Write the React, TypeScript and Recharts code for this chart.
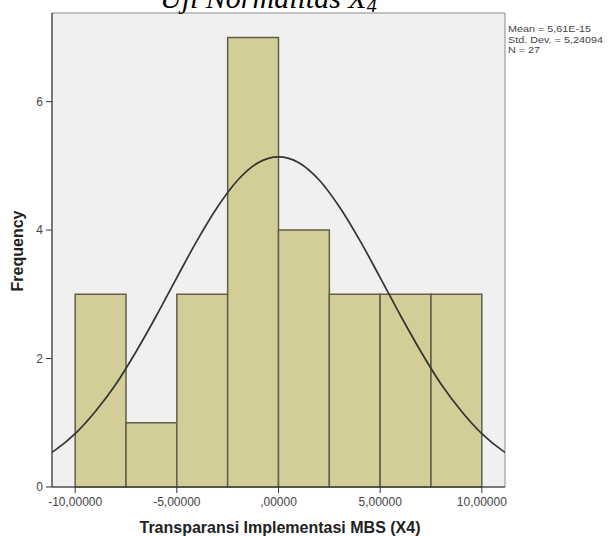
import React from 'react';
import { ComposedChart, Line, XAxis, YAxis, ReferenceArea } from 'recharts';

// histogram bins (residual X4) and their counts
const binStarts = [-10, -7.5, -5, -2.5, 0, 2.5, 5, 7.5];
const binEnds = [-7.5, -5, -2.5, 0, 2.5, 5, 7.5, 10];
const frequencies = [3, 1, 3, 7, 4, 3, 3, 3];

// normal curve
const curveX = [-11.14, -11, -10, -9, -8, -7, -6, -5, -4, -3, -2, -1, 0, 1, 2, 3, 4, 5, 6, 7, 8, 9, 10, 11, 11.14];
const curveY = [0.54, 0.57, 0.83, 1.18, 1.6, 2.11, 2.67, 3.26, 3.84, 4.36, 4.78, 5.05, 5.14, 5.05, 4.78, 4.36, 3.84, 3.26, 2.67, 2.11, 1.6, 1.18, 0.83, 0.57, 0.54];

const xTicks = [-10, -5, 0, 5, 10];
const xTickLabels = ['-10,00000', '-5,00000', ',00000', '5,00000', '10,00000'];
const yTicks = [0, 2, 4, 6];

const statsLines = ['Mean = 5,61E-15', 'Std. Dev. = 5,24094', 'N = 27'];

const curveData = curveX.map((x, i) => ({ x, y: curveY[i] }));

const font = '"Liberation Sans", Arial, sans-serif';

export default function App() {
  return (
    <div style={{ position: 'absolute', left: 0, top: 0, width: 616, height: 536, overflow: 'hidden', background: '#fff' }}>
      <ComposedChart
        width={616}
        height={536}
        data={curveData}
        margin={{ top: 13, right: 111, bottom: 19, left: 12 }}
      >
        <XAxis
          type="number"
          dataKey="x"
          domain={[-11.14, 11.14]}
          ticks={xTicks}
          allowDataOverflow
          height={30}
          tickSize={6}
          tickMargin={4}
          stroke="#333"
          tick={{ fill: '#444', fontSize: 12, fontFamily: font }}
          tickFormatter={(v: number) => xTickLabels[xTicks.indexOf(v)] ?? String(v)}
        />
        <YAxis
          type="number"
          domain={[0, 7.38]}
          ticks={yTicks}
          allowDataOverflow
          width={40}
          tickSize={6}
          tickMargin={3}
          stroke="#333"
          tick={{ fill: '#444', fontSize: 12, fontFamily: font }}
        />
        <ReferenceArea y1={0} y2={7.38} fill="#f0f0f0" fillOpacity={1} stroke="#8a8a8a" strokeWidth={1} />
        {binStarts.map((b, i) => (
          <ReferenceArea
            key={b}
            x1={b}
            x2={binEnds[i]}
            y1={0}
            y2={frequencies[i]}
            fill="#d3ce97"
            fillOpacity={1}
            stroke="#5f5f48"
            strokeWidth={1.5}
          />
        ))}
        <Line
          type="monotone"
          dataKey="y"
          stroke="#333"
          strokeWidth={1.7}
          dot={false}
          isAnimationActive={false}
        />
      </ComposedChart>
      <svg width={616} height={536} style={{ position: 'absolute', left: 0, top: 0, pointerEvents: 'none' }}>
        <text x={160} y={8} fontFamily='"Liberation Serif", "Times New Roman", serif' fontStyle="italic" fontSize={30} fill="#000">
          Uji Normalitas X<tspan fontSize={20} dy={4}>4</tspan>
        </text>
        {statsLines.map((s, i) => (
          <text
            key={s}
            x={0}
            y={0}
            transform={`translate(508 ${32 + i * 10.5}) scale(1.2 1)`}
            fontFamily={font}
            fontSize={9}
            fill="#444"
          >
            {s}
          </text>
        ))}
        <text x={17} y={251} transform="rotate(-90 17 251)" textAnchor="middle" dominantBaseline="central" fontFamily={font} fontSize={16} fontWeight="bold" fill="#222">
          Frequency
        </text>
        <text x={280} y={533} textAnchor="middle" fontFamily={font} fontSize={16} fontWeight="bold" fill="#222">
          Transparansi Implementasi MBS (X4)
        </text>
      </svg>
    </div>
  );
}
